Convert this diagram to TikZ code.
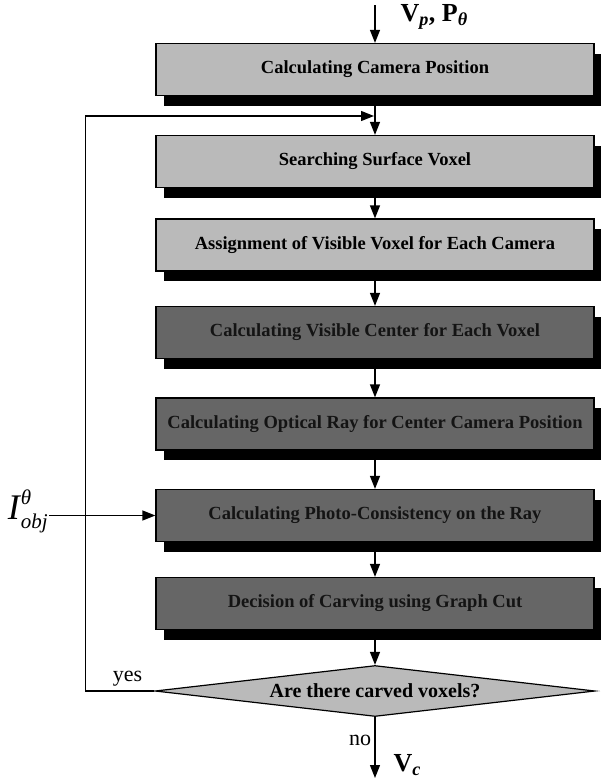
\documentclass[tikz,border=0pt]{standalone}
\usepackage{fontspec}
\setmainfont{Liberation Serif}
\usetikzlibrary{
    arrows.meta,
    positioning,
    shapes.geometric,
    shadows
}
\tikzset{
    % Colors
    light fill/.style={fill=black!27},
    dark fill/.style={fill=black!60},
    %
    % Boxes
    step box/.style={draw=black,line width=1.2pt,minimum width=438pt,minimum height=52pt,inner sep=0pt,
        font=\bfseries\fontsize{18.5}{20}\selectfont,
        drop shadow={shadow xshift=8pt,shadow yshift=-10pt,fill=black,opacity=1}},
    light box/.style={step box,light fill},
    dark box/.style={step box,dark fill,text=black!92},
    decision/.style={diamond,draw=black,line width=1.2pt,light fill,aspect=8.6,
        minimum width=440pt,minimum height=51pt,inner sep=0pt,font=\bfseries\fontsize{20}{22}\selectfont},
    %
    % Arrows
    arrow tip/.tip={Triangle[width=10pt,length=13pt]},
    arr/.style={->,>={arrow tip},line width=1.3pt},
    %
    % Labels
    big label/.style={font=\bfseries\fontsize{26}{28}\selectfont}
}
\tikzstyle{every node}=[font=\fontsize{22}{24}\selectfont]

\begin{document}
\begin{tikzpicture}[x=1pt,y=-1pt]
        \useasboundingbox (0,0) rectangle (601,782);

        \node[light box] (campos)  at (375,69.5)  {Calculating Camera Position};
        \node[light box] (surface) at (375,161.5) {Searching Surface Voxel};
        \node[light box] (assign)  at (375,245)   {Assignment of Visible Voxel for Each Camera};
        \node[dark box]  (center)  at (375,332.5) {Calculating Visible Center for Each Voxel};
        \node[dark box]  (optray)  at (375,424)   {Calculating Optical Ray for Center Camera Position};
        \node[dark box]  (photo)   at (375,515.5) {Calculating Photo-Consistency on the Ray};
        \node[dark box]  (carve)   at (375,603.5) {Decision of Carving using Graph Cut};
        \node[decision]  (decide)  at (375,691)   {Are there carved voxels?};

        % input and output
        \coordinate (start) at (375,5);
        \coordinate (stop) at (375,778);
        \coordinate (join) at (375,116);
        \node[anchor=west,big label] (vin) at (397,17)
            {V\textsubscript{\textit{p}}, P\textsubscript{\textit{θ}}};
        \node[anchor=east,inner sep=1pt,font=\itshape\fontsize{36}{38}\selectfont] (iobj) at (49,511)
            {I\kern1pt\rlap{\raisebox{15pt}{\fontsize{21}{21}\selectfont θ}}\raisebox{-9pt}{\fontsize{21}{21}\selectfont obj}};
        \node[anchor=west,big label] (vout) at (390,765)
            {V\textsubscript{\textit{c}}};

        \draw[arr] (start) -- (campos);
        \foreach \a/\b in {campos/surface,surface/assign,assign/center,center/optray,optray/photo,photo/carve,carve/decide}
            \draw[arr] (\a) -- (\b);
        \draw[arr] (photo.west -| iobj.east) -- (photo.west);

        % loop back
        \draw[arr,shorten >=1pt] (decide.west) -- ++(-69,0) node[pos=0.39,above,yshift=1pt] {yes} |- (join);
        \draw[arr] (decide.south) -- (stop) node[pos=0.38,left] {no};
\end{tikzpicture}
\end{document}
